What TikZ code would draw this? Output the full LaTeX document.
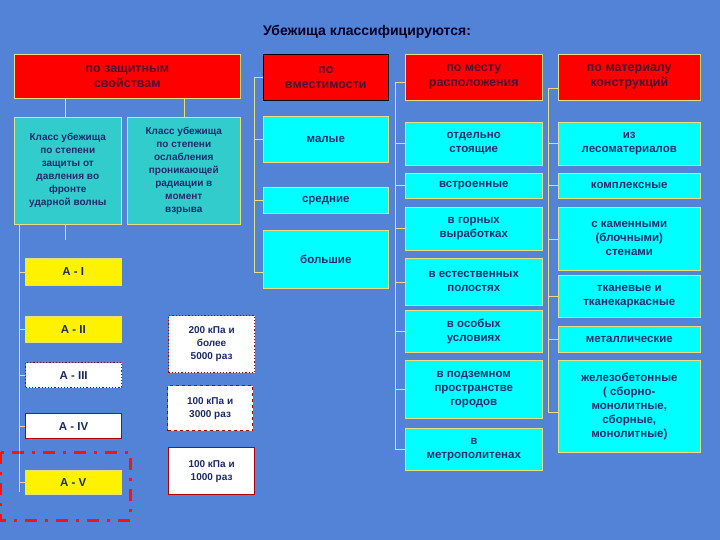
\documentclass[tikz,border=0pt]{standalone}
\usepackage{fontspec}
\setmainfont{Liberation Sans}
\begin{document}
\begin{tikzpicture}[x=1pt,y=-1pt,
 every node/.style={font=\bfseries\fontsize{11.5}{14}\selectfont,text=txt,align=center,inner sep=1pt},
 bx/.style={draw=ylw,line width=0.6pt,anchor=north west},
 hdr/.style={bx,fill=red,text=hdt,font=\bfseries\fontsize{12.5}{15}\selectfont},
 tl/.style={bx,fill=teal1},
 cy/.style={bx,fill=cyanx},
 ye/.style={bx,fill=yellow},
 wb/.style={anchor=north west,fill=white,draw=red!70!black,line width=1.2pt},
 ln/.style={draw=ylw,line width=0.6pt}]
\definecolor{bg}{HTML}{5283D6}
\definecolor{txt}{HTML}{1B2A6B}
\definecolor{hdt}{HTML}{4A1030}
\definecolor{ylw}{HTML}{E8E080}
\definecolor{teal1}{HTML}{33CCCC}
\definecolor{cyanx}{HTML}{00FFFF}
\fill[bg] (0,0) rectangle (720,540);
\useasboundingbox (0,0) rectangle (720,540);
\node[font=\bfseries\fontsize{14}{16}\selectfont,text=black!85!blue] (t) at (367,32) {Убежища классифицируются:};
% headers
\node[hdr,minimum width=226,minimum height=44] (h1) at (14,54) {по защитным\\свойствам};
\node[hdr,draw=black,minimum width=125,minimum height=46] (h2) at (263,54) {по\\вместимости};
\node[hdr,minimum width=137,minimum height=46] (h3) at (405,54) {по месту\\расположения};
\node[hdr,minimum width=142,minimum height=46] (h4) at (558,54) {по материалу\\конструкций};
% left
\node[tl,minimum width=107,minimum height=107,font=\bfseries\fontsize{10}{13}\selectfont] (l1) at (14,117) {Класс убежища\\по степени\\защиты от\\давления во\\фронте\\ударной волны};
\node[tl,minimum width=113,minimum height=107,font=\bfseries\fontsize{10}{13}\selectfont] (l2) at (127,117) {Класс убежища\\по степени\\ослабления\\проникающей\\радиации в\\момент\\взрыва};
% col2
\node[cy,minimum width=125,minimum height=46] (c21) at (263,116) {малые};
\node[cy,minimum width=125,minimum height=26] (c22) at (263,187) {средние};
\node[cy,minimum width=125,minimum height=58] (c23) at (263,230) {большие};
% col3
\node[cy,minimum width=137,minimum height=43] (c31) at (405,122) {отдельно\\стоящие};
\node[cy,minimum width=137,minimum height=25] (c32) at (405,173) {встроенные};
\node[cy,minimum width=137,minimum height=43] (c33) at (405,207) {в горных\\выработках};
\node[cy,minimum width=137,minimum height=47] (c34) at (405,258) {в естественных\\полостях};
\node[cy,minimum width=137,minimum height=42] (c35) at (405,310) {в особых\\условиях};
\node[cy,minimum width=137,minimum height=58] (c36) at (405,360) {в подземном\\пространстве\\городов};
\node[cy,minimum width=137,minimum height=42] (c37) at (405,428) {в\\метрополитенах};
% col4
\node[cy,minimum width=142,minimum height=43] (c41) at (558,122) {из\\лесоматериалов};
\node[cy,minimum width=142,minimum height=25] (c42) at (558,173) {комплексные};
\node[cy,minimum width=142,minimum height=63] (c43) at (558,207) {с каменными\\(блочными)\\стенами};
\node[cy,minimum width=142,minimum height=42] (c44) at (558,275) {тканевые и\\тканекаркасные};
\node[cy,minimum width=142,minimum height=26] (c45) at (558,326) {металлические};
\node[cy,minimum width=142,minimum height=92] (c46) at (558,360) {железобетонные\\( сборно-\\монолитные,\\сборные,\\монолитные)};
% A classes
\node[ye,minimum width=96,minimum height=27] (a1) at (25,258) {А - I};
\node[ye,minimum width=96,minimum height=26] (a2) at (25,316) {А - II};
\node[wb,dotted,minimum width=96,minimum height=25] (a3) at (25,362) {А - III};
\node[wb,minimum width=96,minimum height=25] (a4) at (25,413) {А - IV};
\node[ye,minimum width=96,minimum height=24] (a5) at (25,470) {А - V};
\draw[red!85!orange,line width=3pt,dash pattern=on 12pt off 8pt on 3pt off 8pt] (0,452) rectangle (130,520);
% pressure boxes
\node[wb,dotted,minimum width=86,minimum height=57,font=\bfseries\fontsize{10}{13}\selectfont] (p1) at (168,315) {200 кПа и\\более\\5000 раз};
\node[wb,dashed,minimum width=85,minimum height=45,font=\bfseries\fontsize{10}{13}\selectfont] (p2) at (167,385) {100 кПа и\\3000 раз};
\node[wb,minimum width=86,minimum height=47,font=\bfseries\fontsize{10}{13}\selectfont] (p3) at (168,447) {100 кПа и\\1000 раз};
% connectors
\draw[ln] (h1.south -| 65,0) -- (l1.north -| 65,0);
\draw[ln] (h1.south -| 184,0) -- (l2.north -| 184,0);
\draw[ln] (l1.south -| 65,0) -- (65,240);
\draw[ln] (19,224) -- (19,492);
\foreach \n in {a1,a2,a3,a4,a5} \draw[ln] (19,0 |- \n.west) -- (\n.west);
\draw[ln] (254,77) -- (254,272);
\foreach \n in {h2,c21,c22} \draw[ln] (254,0 |- \n.west) -- (\n.west);
\draw[ln] (254,272) -- (263,272);
\draw[ln] (395,82) -- (395,450);
\draw[ln] (395,82) -- (405,82);
\foreach \n in {c31,c32,c33,c34,c35,c36,c37} \draw[ln] (395,0 |- \n.west) -- (\n.west);
\draw[ln] (548,88) -- (548,412);
\draw[ln] (548,88) -- (558,88);
\foreach \n in {c41,c42,c43,c44,c45} \draw[ln] (548,0 |- \n.west) -- (\n.west);
\draw[ln] (548,412) -- (558,412);
\end{tikzpicture}
\end{document}
